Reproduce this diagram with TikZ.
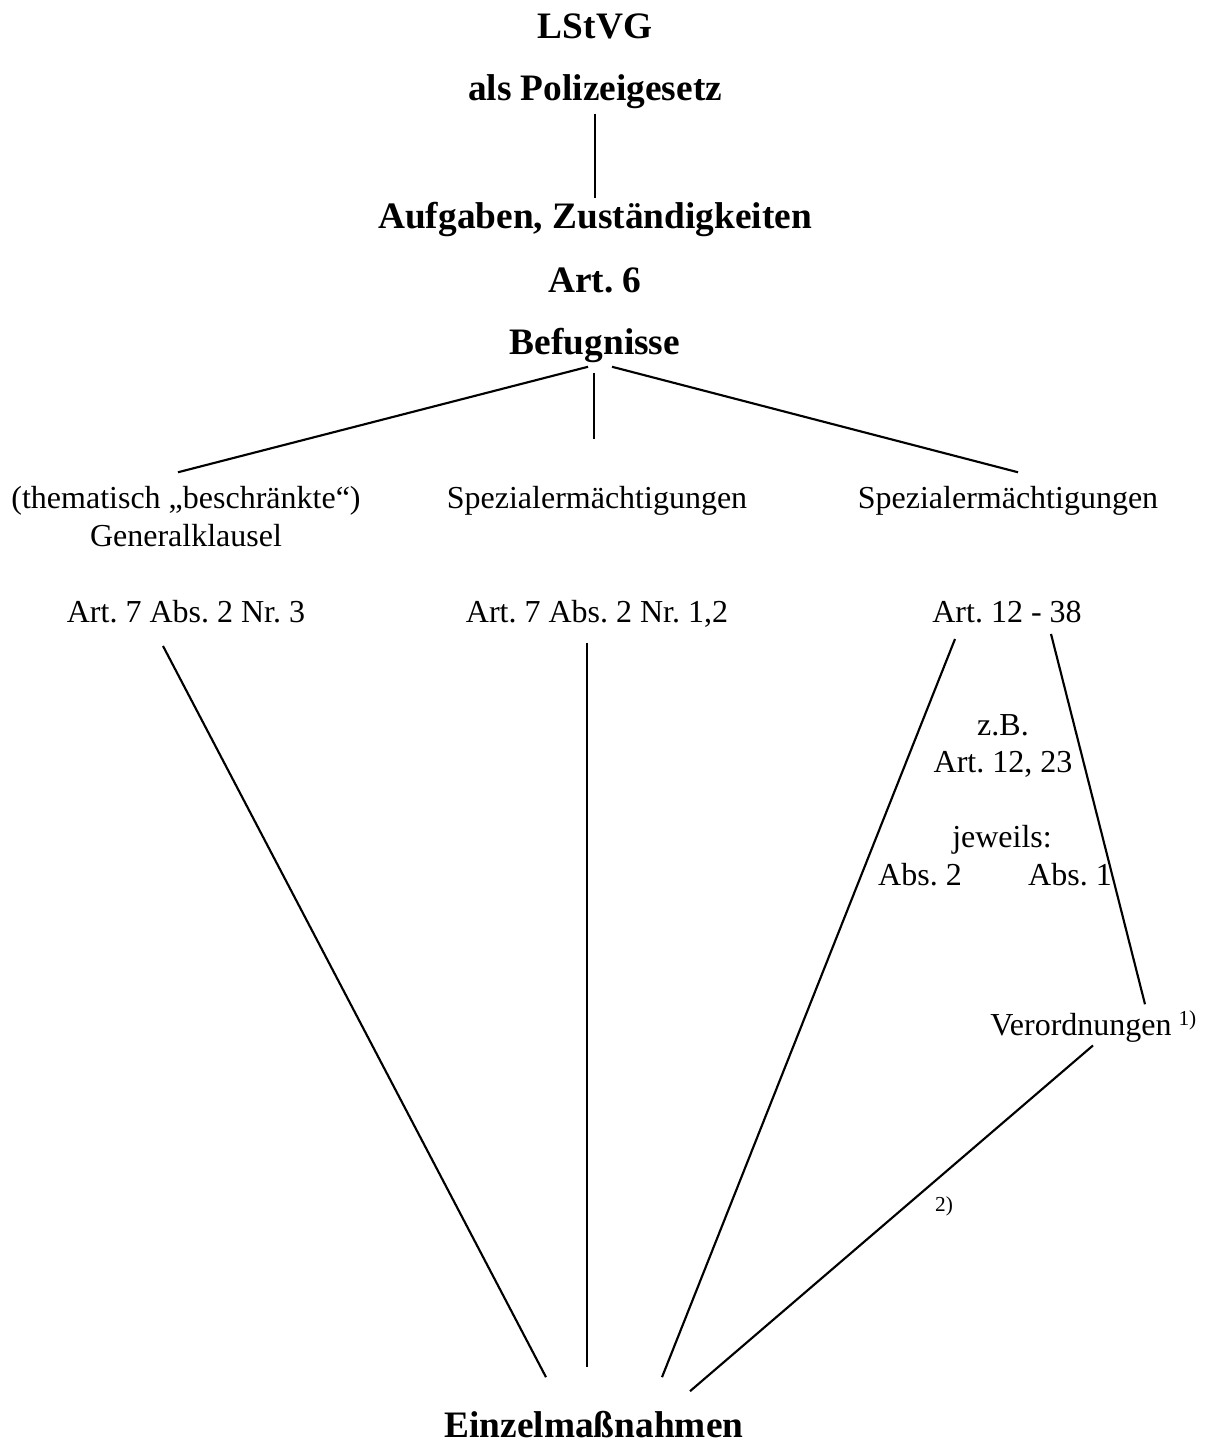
\documentclass[tikz,border=0pt]{standalone}
\usepackage{fontspec}
\setmainfont{Liberation Serif}
\usetikzlibrary{calc}
\frenchspacing

\begin{document}
\begin{tikzpicture}[x=0.375pt,y=-0.375pt,
		titel/.style={font=\fontsize{14}{17}\selectfont\bfseries,anchor=base,inner sep=1.5pt},
		eintrag/.style={font=\fontsize{12}{14}\selectfont,anchor=base,inner sep=1.5pt},
		fussnote/.style={font=\fontsize{8}{9}\selectfont,anchor=base,inner sep=0pt},
		linie/.style={line width=0.8pt}]
		
		\useasboundingbox (0,0) rectangle (1212,1443);
		
		%kopf
		\node[titel] (lstvg) at (595,39) {LStVG};
		\node[titel] (polizei) at (595,101) {als Polizeigesetz};
		\node[titel] (aufgaben) at (595,229) {Aufgaben, Zuständigkeiten};
		\node[titel] (art6) at (595,293) {Art. 6};
		\node[titel] (befug) at (595,355) {Befugnisse};
		
		%zweige
		\node[eintrag] (thema) at (186,508) {(thematisch „beschränkte“)};
		\node[eintrag] (genkl) at (186,546) {Generalklausel};
		\node[eintrag] (spez1) at (597,508) {Spezialermächtigungen};
		\node[eintrag] (spez2) at (1008,508) {Spezialermächtigungen};
		
		\node[eintrag] (art7a) at (186,622) {Art. 7 Abs. 2 Nr. 3};
		\node[eintrag] (art7b) at (597,622) {Art. 7 Abs. 2 Nr. 1,2};
		\node[eintrag] (art12) at (1007,622) {Art. 12 - 38};
		
		\node[eintrag] (zb) at (1003,735) {z.B.};
		\node[eintrag] (art1223) at (1003,772) {Art. 12, 23};
		\node[eintrag] (jeweils) at (1002,847) {jeweils:};
		\node[eintrag] (abs2) at (920,885) {Abs. 2};
		\node[eintrag] (abs1) at (1070,885) {Abs. 1};
		
		\node[eintrag] (verord) at (1081,1035) {Verordnungen};
		\node[fussnote,anchor=base west] (fn1) at (1178,1025) {1)};
		\node[fussnote] (fn2) at (944,1211) {2)};
		
		\node[titel] (einzel) at (594,1437) {Einzelmaßnahmen};
		
		%linien
		\draw[linie] (polizei) -- (aufgaben);
		\draw[linie] ($(befug.south)+(-7,-1)$) -- ($(thema.north)+(-8,-9)$);
		\draw[linie] ($(befug.south)+(-1,5)$) -- ($(spez1.north)+(-3,-42)$);
		\draw[linie] ($(befug.south)+(17,-1)$) -- ($(spez2.north)+(10,-9)$);
		
		\draw[linie] ($(art7a.south)+(-23,19)$) -- ($(einzel.north)+(-48,-29)$);
		\draw[linie] ($(art7b.south)+(-10,12)$) -- ($(einzel.north)+(-7,-39)$);
		\draw[linie] ($(art12.south)+(-52,12)$) -- ($(einzel.north)+(68,-29)$);
		\draw[linie] ($(art12.south)+(44,7)$) -- ($(verord.north)+(64,-4)$);
		\draw[linie] ($(verord.south)+(12,-1)$) -- ($(einzel.north)+(96,-15)$);
		
\end{tikzpicture}
\end{document}
